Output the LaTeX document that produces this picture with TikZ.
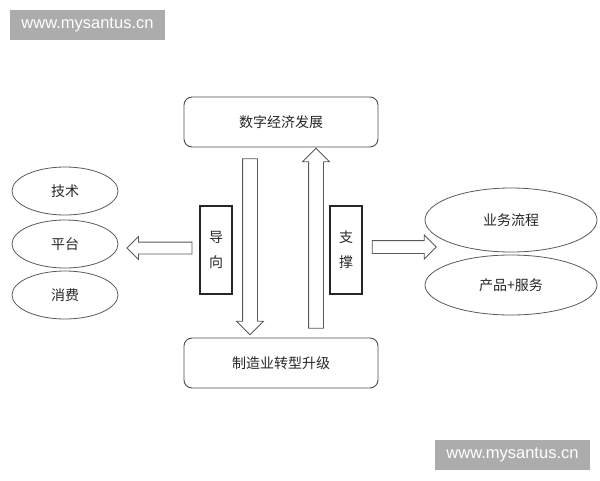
\documentclass[tikz,border=0pt]{standalone}
\usepackage{fontspec}
\setmainfont{Liberation Sans}
\newfontfamily\cjk{Noto Sans CJK SC}
\usetikzlibrary{shapes.geometric}
\usetikzlibrary{shapes.arrows}

\tikzset{
    webmark/.style={fill=gray!65, text=white, inner sep=0pt, minimum width=155pt,
        minimum height=30pt, font=\fontsize{16.5}{18}\selectfont},
    stage/.style={draw=gray!60!black, rounded corners=8pt, line width=0.9pt,
        minimum width=194pt, minimum height=50pt, text=black!85,
        font=\cjk\fontsize{14}{16}\selectfont},
    tag/.style={draw=black!85, line width=1.4pt, minimum width=32pt, minimum height=88pt,
        inner sep=0pt, align=center, text=black!85, font=\cjk\fontsize{14}{25}\selectfont},
    field/.style={draw=gray!70!black, ellipse, line width=0.8pt, inner sep=0pt,
        text=black!85, font=\cjk\fontsize{14}{16}\selectfont},
    hollow/.style={single arrow, draw=gray!70!black, line width=0.8pt, fill=white}
}

\begin{document}
\begin{tikzpicture}[x=1pt, y=-1pt]

    \useasboundingbox (0, 0) rectangle (600, 480);

    % Watermarks
    \node[webmark] (markA) at (87.5, 25) {www.mysantus.cn};
    \node[webmark] (markB) at (512.5, 455) {www.mysantus.cn};

    % Top and bottom stages
    \node[stage] (digital) at (281, 122) {数字经济发展};
    \node[stage] (manuf) at (281, 363) {制造业转型升级};

    % Hollow arrows between the stages
    \node[hollow, inner sep=7pt, single arrow head extend=6pt, minimum height=176pt,
        shape border rotate=270] (down) at (250, 243) {};
    \node[hollow, inner sep=7pt, single arrow head extend=6pt, minimum height=180pt,
        shape border rotate=90] (up) at (316, 242) {};

    % Side tags
    \node[tag] (guide) at (216, 250) {导\\向};
    \node[tag] (support) at (346, 250) {支\\撑};

    % Arrows out to the sides
    \node[hollow, inner sep=5.5pt, single arrow head extend=5.5pt, minimum height=65pt,
        shape border rotate=180] (toleft) at (162.5, 248) {};
    \node[hollow, inner sep=6pt, single arrow head extend=5.5pt, minimum height=64pt]
        (toright) at (401, 247) {};

    % Left fields
    \foreach \name/\y/\txt in {tech/191/技术, platform/244/平台, consume/295/消费}{
        \node[field, minimum width=106pt, minimum height=48pt] (\name) at (65, \y) {\txt};
    }

    % Right fields
    \node[field, minimum width=172pt, minimum height=64pt] (process) at (511, 220) {业务流程};
    \node[field, minimum width=172pt, minimum height=60pt] (product) at (511, 285) {产品+服务};

\end{tikzpicture}
\end{document}
